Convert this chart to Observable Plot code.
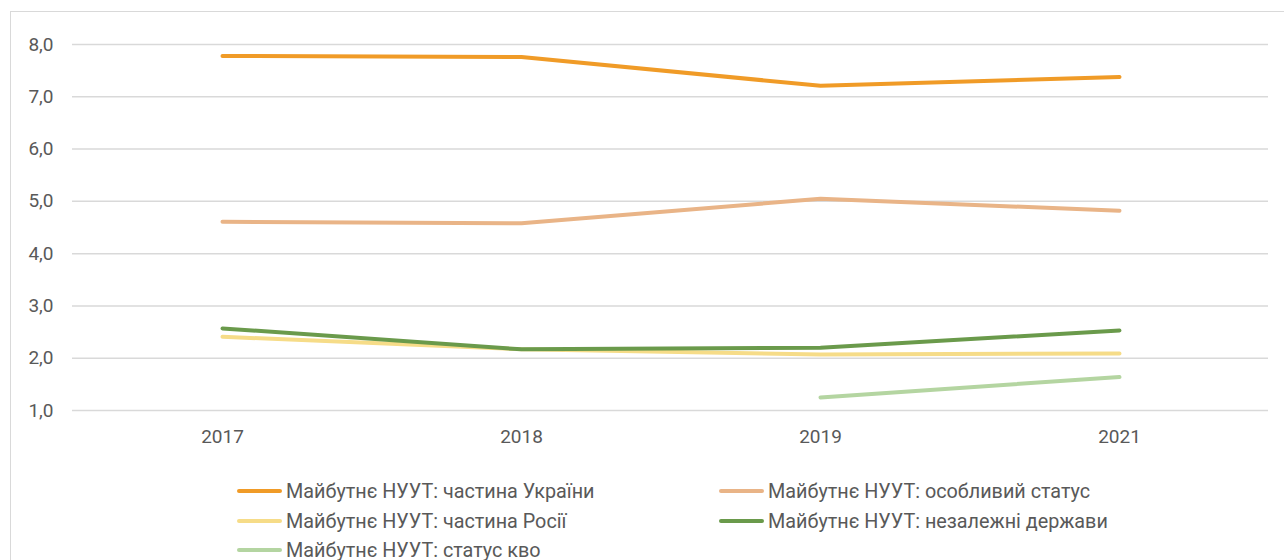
<!DOCTYPE html>
<html>
<head>
<meta charset="utf-8">
<script src="https://cdn.jsdelivr.net/npm/d3@7"></script>
<script src="https://cdn.jsdelivr.net/npm/@observablehq/plot@0.6"></script>
<style>
  body { margin: 0; background: #fff; font-family: Roboto, "Noto Sans", sans-serif; }
  #wrap { position: relative; width: 1284px; height: 560px; overflow: hidden; }
  #frame { position: absolute; left: 10px; top: 11px; width: 1290px; height: 600px; border: 1.5px solid #d9d9d9; box-sizing: border-box; pointer-events: none; }
  #chart { position: absolute; left: 0; top: 0; }
  #legend { position: absolute; left: 0; top: 0; width: 1284px; }
  .item { position: absolute; display: flex; align-items: center; height: 24px; font-size: 19.8px; color: #595959; white-space: nowrap; }
  .sw { width: 45px; height: 4px; border-radius: 2px; margin-right: 4px; }
</style>
</head>
<body>
<div id="wrap">
  <div id="chart"></div>
  <div id="frame"></div>
  <div id="legend"></div>
</div>
<script>
const years = ["2017", "2018", "2019", "2021"];
const seriesNames = [
  "Майбутнє НУУТ: частина України",
  "Майбутнє НУУТ: особливий статус",
  "Майбутнє НУУТ: частина Росії",
  "Майбутнє НУУТ: незалежні держави",
  "Майбутнє НУУТ: статус кво"
];
const ukraine     = [7.78, 7.76, 7.21, 7.38];
const special     = [4.61, 4.58, 5.05, 4.82];
const russia      = [2.41, 2.17, 2.07, 2.09];
const independent = [2.57, 2.17, 2.2, 2.53];
const statusQuo   = [null, null, 1.25, 1.64];
const colors = ["#F09B27", "#E9B487", "#F6DC88", "#6A9A4B", "#B4D5A1"];
const yTicks = [1, 2, 3, 4, 5, 6, 7, 8];

const allSeries = [ukraine, special, russia, independent, statusQuo];
const rows = [];
allSeries.forEach((vals, i) => {
  vals.forEach((v, j) => {
    if (v != null) rows.push({ series: seriesNames[i], year: years[j], value: v });
  });
});

const fmt = d => d.toFixed(1).replace(".", ",");

const plot = Plot.plot({
  width: 1284,
  height: 460,
  marginLeft: 72,
  marginRight: 16,
  marginTop: 44,
  marginBottom: 50,
  style: { fontFamily: "Roboto, 'Noto Sans', sans-serif", fontSize: "19px", color: "#595959", background: "transparent" },
  x: { type: "point", domain: years, padding: 0.5, label: null },
  y: { domain: [1, 8], ticks: yTicks, tickFormat: fmt, label: null },
  color: { domain: seriesNames, range: colors },
  marks: [
    Plot.ruleY(yTicks, { stroke: "#d9d9d9", strokeWidth: 1.5 }),
    Plot.axisY({ ticks: yTicks, tickFormat: fmt, tickSize: 0, tickPadding: 19, label: null, fill: "#595959", fontSize: 19 }),
    Plot.axisX({ tickSize: 0, tickPadding: 19, label: null, fill: "#595959", fontSize: 19 }),
    Plot.line(rows, { x: "year", y: "value", z: "series", stroke: "series", strokeWidth: 4, strokeLinecap: "round", strokeLinejoin: "round" })
  ]
});
document.getElementById("chart").appendChild(plot);

const legend = document.getElementById("legend");
const pos = [
  [237, 491], [719, 491],
  [237, 521], [719, 521],
  [237, 550]
];
seriesNames.forEach((name, i) => {
  const item = document.createElement("div");
  item.className = "item";
  item.style.left = pos[i][0] + "px";
  item.style.top = (pos[i][1] - 12) + "px";
  const sw = document.createElement("div");
  sw.className = "sw";
  sw.style.background = colors[i];
  const t = document.createElement("span");
  t.textContent = name;
  item.appendChild(sw);
  item.appendChild(t);
  legend.appendChild(item);
});
</script>
</body>
</html>
